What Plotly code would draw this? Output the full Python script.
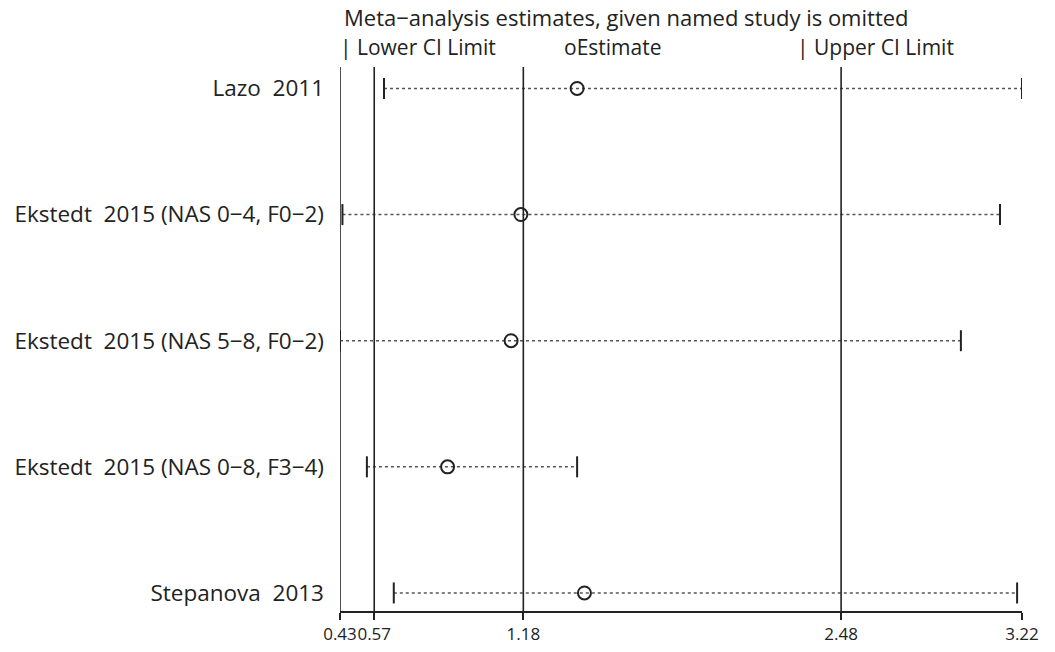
import plotly.graph_objects as go

studies = ["Lazo  2011", "Ekstedt  2015 (NAS 0\u22124, F0\u22122)", "Ekstedt  2015 (NAS 5\u22128, F0\u22122)",
           "Ekstedt  2015 (NAS 0\u22128, F3\u22124)", "Stepanova  2013"]
estimate = [1.40, 1.17, 1.13, 0.87, 1.43]
lower = [0.61, 0.44, 0.43, 0.54, 0.65]
upper = [3.22, 3.13, 2.97, 1.40, 3.20]
ref_lines = [0.43, 0.57, 1.18, 2.48]
xticks = [0.43, 0.57, 1.18, 2.48, 3.22]
xticklabels = ["0.43", "0.57", "1.18", "2.48", "3.22"]

n = len(studies)
ypos = [n - i for i in range(n)]
FONT = "Open Sans"

fig = go.Figure()
for yy, lo, hi in zip(ypos, lower, upper):
    fig.add_trace(go.Scatter(x=[lo, hi], y=[yy, yy], mode="lines",
                             line=dict(color="#555", width=1.5, dash="dot"),
                             showlegend=False, hoverinfo="skip"))
fig.add_trace(go.Scatter(x=lower, y=ypos, mode="markers",
                         marker=dict(symbol="line-ns", size=15, line=dict(color="#222", width=2)),
                         showlegend=False))
fig.add_trace(go.Scatter(x=upper, y=ypos, mode="markers",
                         marker=dict(symbol="line-ns", size=15, line=dict(color="#222", width=2)),
                         showlegend=False))
fig.add_trace(go.Scatter(x=estimate, y=ypos, mode="markers",
                         marker=dict(symbol="circle-open", size=13, color="#222", line=dict(width=2)),
                         showlegend=False))

for rx in ref_lines:
    fig.add_shape(type="line", xref="x", yref="paper", x0=rx, x1=rx, y0=0, y1=1,
                  line=dict(color="#222", width=1.6))

fig.update_xaxes(range=[0.43, 3.22], tickvals=xticks, ticktext=xticklabels,
                 showgrid=False, zeroline=False, showline=True, linecolor="#222", linewidth=1.6,
                 ticks="outside", ticklen=7, tickwidth=1.6, tickcolor="#222",
                 tickangle=0, automargin=False,
                 tickfont=dict(family=FONT, size=17, color="#222"))
fig.update_yaxes(range=[0.857, 5.17], tickvals=ypos, ticktext=studies,
                 showgrid=False, zeroline=False, showline=False, ticks="",
                 ticklabelstandoff=15, automargin=False,
                 tickfont=dict(family=FONT, size=22.5, color="#222"))

fig.add_annotation(text="Meta\u2212analysis estimates, given named study is omitted",
                   xref="paper", yref="paper", x=0.003, y=1, xanchor="left", yanchor="bottom",
                   yshift=33, showarrow=False, font=dict(family=FONT, size=22, color="#222"))
for txt, px in [("| Lower CI Limit", -0.003), ("oEstimate", 0.325), ("| Upper CI Limit", 0.667)]:
    fig.add_annotation(text=txt, xref="paper", yref="paper", x=px, y=1, xanchor="left",
                       yanchor="bottom", yshift=4, showarrow=False,
                       font=dict(family=FONT, size=21, color="#222"))

fig.update_layout(width=1055, height=652, margin=dict(l=340, r=33, t=67, b=41),
                  plot_bgcolor="white", paper_bgcolor="white", showlegend=False)
fig.write_html("out.html")
